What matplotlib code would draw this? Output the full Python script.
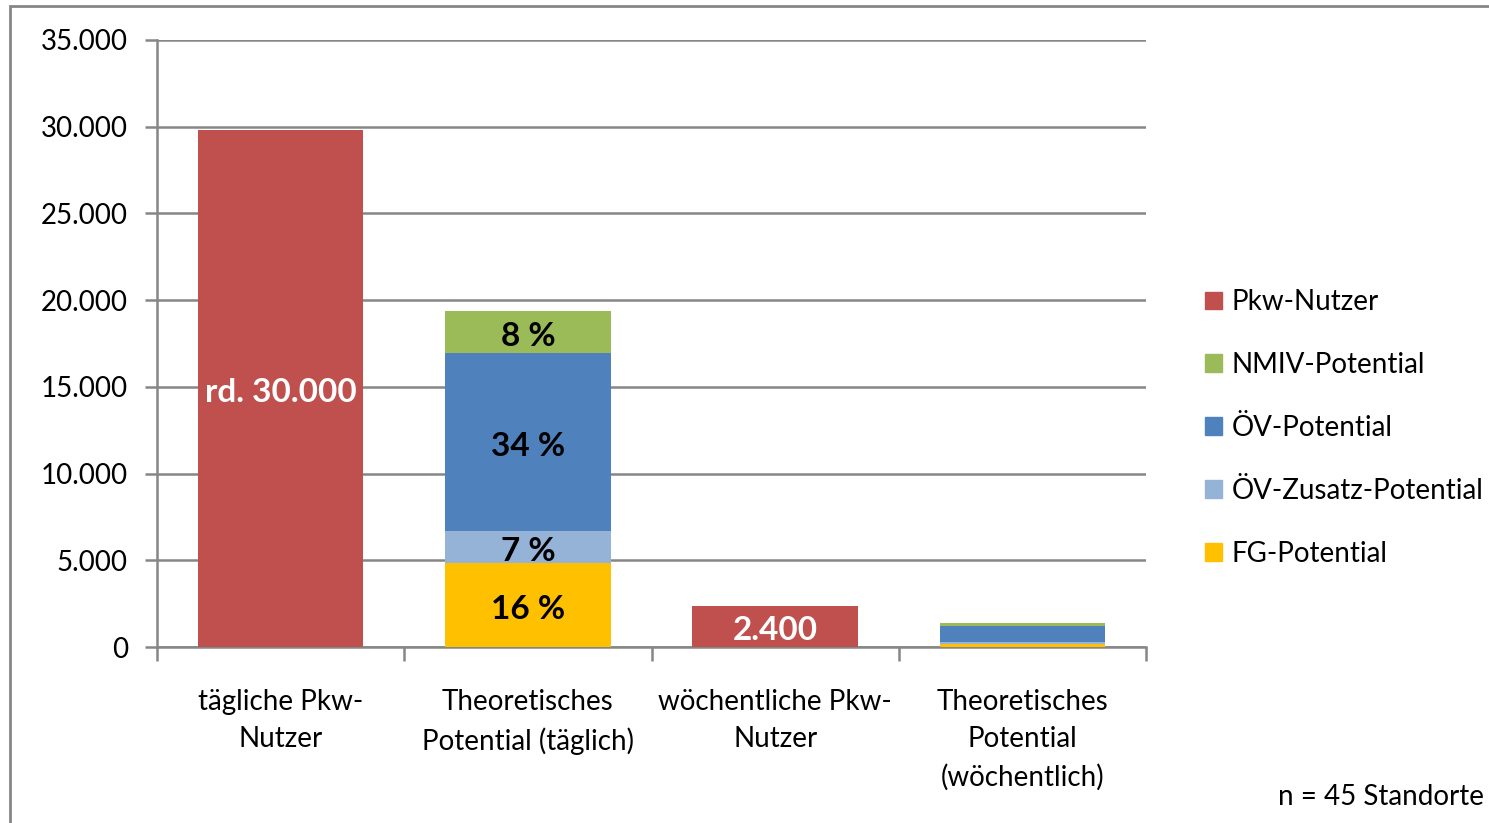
import matplotlib
matplotlib.use("Agg")
import matplotlib.pyplot as plt
from matplotlib.patches import Rectangle
import numpy as np

plt.rcParams['font.family'] = ['Lato', 'DejaVu Sans']

categories = ["tägliche Pkw-\nNutzer", "Theoretisches\nPotential (täglich)",
              "wöchentliche Pkw-\nNutzer", "Theoretisches\nPotential\n(wöchentlich)"]
series_names = ["Pkw-Nutzer", "NMIV-Potential", "ÖV-Potential", "ÖV-Zusatz-Potential", "FG-Potential"]
colors = ["#C0504D", "#9BBB59", "#4F81BD", "#95B3D7", "#FFC000"]

pkw = [29800, 0, 2360, 0]
fg = [0, 4850, 0, 180]
oev_zusatz = [0, 1850, 0, 80]
oev = [0, 10250, 0, 950]
nmiv = [0, 2430, 0, 160]

pct_labels = {"FG-Potential": "16 %", "ÖV-Zusatz-Potential": "7 %",
              "ÖV-Potential": "34 %", "NMIV-Potential": "8 %"}
pkw_labels = ["rd. 30.000", "", "2.400", ""]
yticks = [0, 5000, 10000, 15000, 20000, 25000, 30000, 35000]
ytick_labels = ["0", "5.000", "10.000", "15.000", "20.000", "25.000", "30.000", "35.000"]

fig = plt.figure(figsize=(14.89, 8.23), dpi=100)
ax = fig.add_axes([157/1489, 1-647/823, (1146-157)/1489, (647-40)/823])

x = np.arange(len(categories))
w = 0.67
grid_c = "#868686"

ax.bar(x, pkw, w, color=colors[0], zorder=3, label=series_names[0])
bottom = np.zeros(len(categories))
stack = [("FG-Potential", fg, colors[4]), ("ÖV-Zusatz-Potential", oev_zusatz, colors[3]),
         ("ÖV-Potential", oev, colors[2]), ("NMIV-Potential", nmiv, colors[1])]
for name, vals, c in stack:
    ax.bar(x, vals, w, bottom=bottom, color=c, zorder=3, label=name)
    v = vals[1]
    ax.annotate(pct_labels[name], (x[1], bottom[1] + v/2), xytext=(0, -3), textcoords='offset points',
                ha='center', va='center', fontsize=24, fontweight='bold', color='black', zorder=5)
    bottom += np.array(vals)

for i, lab in enumerate(pkw_labels):
    if lab:
        ax.annotate(lab, (x[i], pkw[i]/2), xytext=(0, -3), textcoords='offset points',
                    ha='center', va='center', fontsize=24, fontweight='bold', color='white', zorder=5)

ax.set_xlim(-0.5, len(categories)-0.5)
ax.set_ylim(0, 35000)
ax.set_yticks(yticks)
ax.set_yticklabels(ytick_labels, fontsize=20)
ax.yaxis.grid(True, color=grid_c, linewidth=1.8, zorder=0)
ax.set_axisbelow(True)
ax.set_xticks(x)
ax.set_xticklabels(categories, fontsize=20, linespacing=1.55)
ax.set_xticks(np.arange(len(categories)+1) - 0.5, minor=True)
ax.tick_params(axis='x', which='major', length=0, pad=30)
ax.tick_params(axis='x', which='minor', length=10, width=1.8, color=grid_c)
ax.tick_params(axis='y', length=9, width=1.8, color=grid_c, pad=12)
for s in ['top', 'right']:
    ax.spines[s].set_visible(False)
for s in ['left', 'bottom']:
    ax.spines[s].set_color(grid_c)
    ax.spines[s].set_linewidth(1.8)

leg_h = [Rectangle((0, 0), 1, 1, color=c) for c in colors]
fig.legend(leg_h, series_names, loc='center left', bbox_to_anchor=(1180/1489, 1-428/823),
           frameon=False, fontsize=20, handlelength=0.6, handleheight=0.6,
           handletextpad=0.35, labelspacing=1.33)

fig.text(1484/1489, 1-797/823, "n = 45 Standorte", ha='right', va='center', fontsize=20)

fig.patches.append(Rectangle((10/1489, -0.1), 1.2, 1 - 6/823 + 0.1, transform=fig.transFigure,
                             fill=False, edgecolor=grid_c, linewidth=2))

fig.savefig("out.png", dpi=100)
